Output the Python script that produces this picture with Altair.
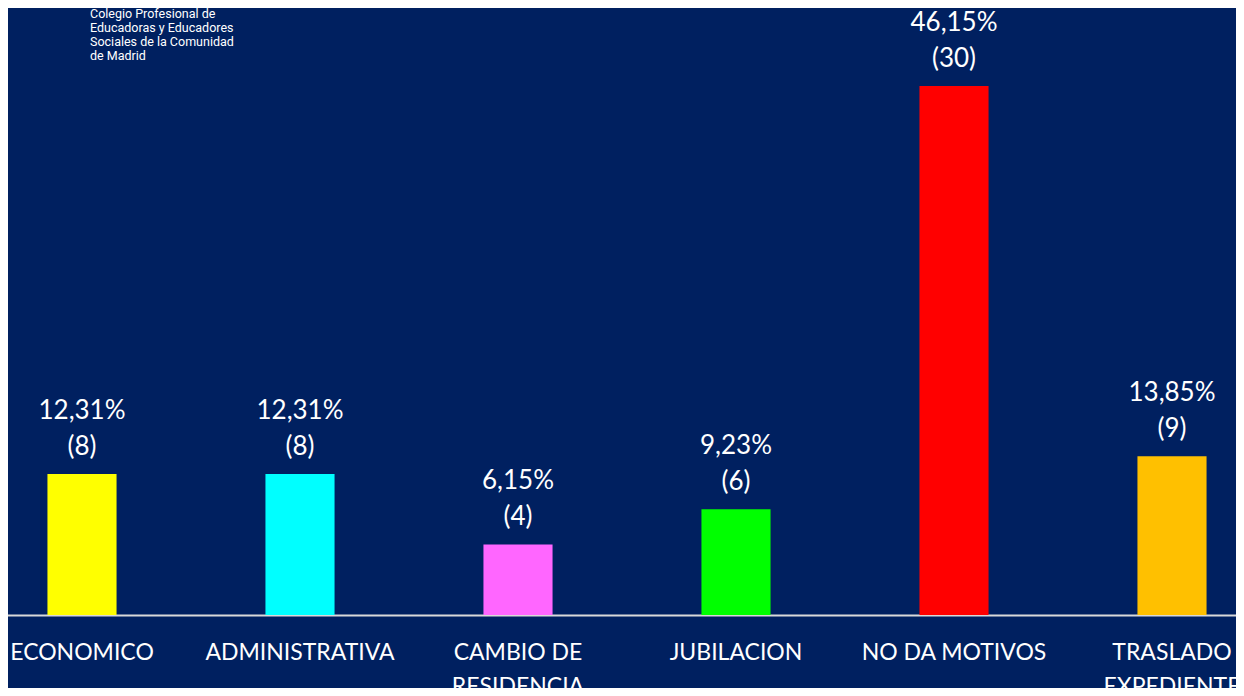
import altair as alt
import pandas as pd

categories = ["ECONOMICO", "ADMINISTRATIVA", "CAMBIO DE RESIDENCIA", "JUBILACION", "NO DA MOTIVOS", "TRASLADO EXPEDIENTE"]
counts = [8, 8, 4, 6, 30, 9]
percents = ["12,31%", "12,31%", "6,15%", "9,23%", "46,15%", "13,85%"]
colors = ["#FFFF00", "#00FFFF", "#FF66FF", "#00FF00", "#FF0000", "#FFC000"]
logo_lines = ["Colegio Profesional de", "Educadoras y Educadores", "Sociales de la Comunidad", "de Madrid"]

df = pd.DataFrame({
    "cat": categories,
    "n": counts,
    "label": [f"{p}\n({c})" for p, c in zip(percents, counts)],
})
logo_df = pd.DataFrame({"t": ["\n".join(logo_lines)]})

BG = "#002060"

x = alt.X(
    "cat:N",
    sort=categories,
    scale=alt.Scale(range=[-35, 1273], paddingInner=0.683, paddingOuter=0.3415),
    axis=alt.Axis(
        title=None,
        labelAngle=0,
        ticks=False,
        domainColor="#D9D9D9",
        domainWidth=2,
        labelColor="#FFFFFF",
        labelFont="Lato",
        labelFontSize=23,
        labelPadding=26,
        labelLineHeight=34,
        labelLimit=400,
        labelOverlap=False,
        labelExpr="length(datum.label) > 15 ? [slice(datum.label, 0, lastindexof(datum.label, ' ')), slice(datum.label, lastindexof(datum.label, ' ') + 1)] : datum.label",
    ),
)
y = alt.Y("n:Q", scale=alt.Scale(domain=[0, 30], nice=False), axis=None)

bars = alt.Chart(df).mark_bar().encode(
    x=x,
    y=y,
    color=alt.Color("cat:N", scale=alt.Scale(domain=categories, range=colors), legend=None),
)

labels = alt.Chart(df).mark_text(
    baseline="bottom", dy=-50, fontSize=26, font="Lato", color="#FFFFFF", lineBreak="\n", lineHeight=36
).encode(x=x, y=y, text="label:N")

logo = alt.Chart(logo_df).mark_text(
    align="left", baseline="top", fontSize=12.5, font="Roboto", color="#FFFFFF",
    lineBreak="\n", lineHeight=14,
).encode(x=alt.value(82), y=alt.value(-78), text="t:N")

chart = alt.layer(bars, labels, logo).properties(
    width=1228,
    height=529,
    padding={"left": 0, "top": 78, "right": 0, "bottom": 73},
    autosize=alt.AutoSizeParams(type="none"),
    background=BG,
).configure_view(stroke=None)

chart.save("out.html", embed_options={"renderer": "svg", "actions": False})
